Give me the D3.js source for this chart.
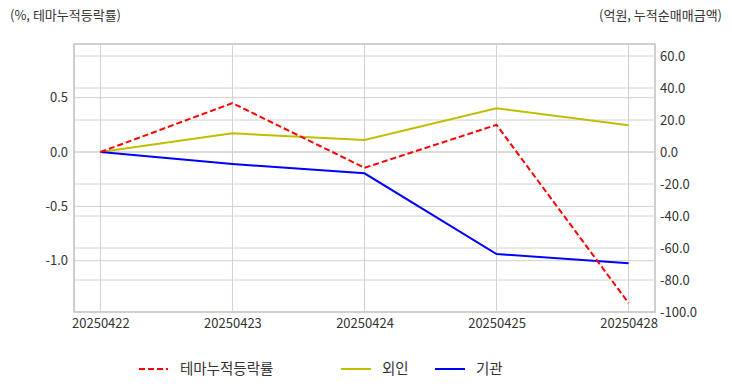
<!DOCTYPE html>
<html><head><meta charset="utf-8">
<script src="https://cdn.jsdelivr.net/npm/d3@7"></script>
<style>body{margin:0;background:#fff;}svg{display:block;font-family:"Noto Sans CJK KR","Noto Sans",sans-serif;}</style>
</head><body><svg id="c" width="732" height="392"></svg>
<script>
const dates = ["20250422","20250423","20250424","20250425","20250428"];
const themeRate = [0.0, 0.45, -0.145, 0.25, -1.39];
const foreign = [0.0, 11.7, 7.5, 27.3, 16.7];
const institution = [0.0, -7.5, -13.3, -63.75, -69.6];
const leftTicks = [0.5, 0.0, -0.5, -1.0];
const rightTicks = [60, 40, 20, 0, -20, -40, -60, -80, -100];
const leftTitle = "(%, 테마누적등락률)";
const rightTitle = "(억원, 누적순매매금액)";
const legendNames = ["테마누적등락률", "외인", "기관"];

const svg = d3.select("#c");
const L = 74, R = 655, T = 44, B = 312;
const x = d3.scalePoint().domain(dates).range([L, R]).padding(0.2);
const yL = d3.scaleLinear().domain([-1.472, 0.994]).range([B, T]);
const yR = d3.scaleLinear().domain([-100, 67.5]).range([B, T]);
const grid = "#d0d0d0", txt = "#333";
const fs = "13px";

// grids
const g = svg.append("g");
g.selectAll(".vx").data(dates).enter().append("line")
  .attr("x1", d => x(d)).attr("x2", d => x(d)).attr("y1", T).attr("y2", B)
  .attr("stroke", grid).attr("stroke-width", 1);
g.selectAll(".hl").data(leftTicks).enter().append("line")
  .attr("x1", L).attr("x2", R).attr("y1", d => yL(d)).attr("y2", d => yL(d))
  .attr("stroke", grid).attr("stroke-width", 1);
g.selectAll(".hr").data(rightTicks).enter().append("line")
  .attr("x1", L).attr("x2", R).attr("y1", d => yR(d)).attr("y2", d => yR(d))
  .attr("stroke", grid).attr("stroke-width", 1);
svg.append("rect").attr("x", L).attr("y", T).attr("width", R - L).attr("height", B - T)
  .attr("fill", "none").attr("stroke", "#cfcfcf").attr("stroke-width", 2);

// axes
const axL = svg.append("g").attr("transform", `translate(${L},0)`)
  .call(d3.axisLeft(yL).tickValues(leftTicks).tickFormat(d3.format(".1f")).tickSize(0).tickPadding(6));
const axR = svg.append("g").attr("transform", `translate(${R},0)`)
  .call(d3.axisRight(yR).tickValues(rightTicks).tickFormat(d3.format(".1f")).tickSize(0).tickPadding(5));
const axB = svg.append("g").attr("transform", `translate(0,${B})`)
  .call(d3.axisBottom(x).tickSize(0).tickPadding(7));
[axL, axR, axB].forEach(a => {
  a.select(".domain").remove();
  a.selectAll("text").attr("fill", txt).style("font-size", fs)
    .style("font-family", '"Noto Sans CJK KR","Noto Sans",sans-serif');
});
axL.selectAll("text").text(d => d3.format(".1f")(d).replace("−", "-"));
axR.selectAll("text").text(d => d3.format(".1f")(d).replace("−", "-"));

// titles
svg.append("text").attr("x", 10).attr("y", 20).attr("fill", txt).style("font-size", fs).text(leftTitle);
svg.append("text").attr("x", 722).attr("y", 20).attr("text-anchor", "end").attr("fill", txt).style("font-size", fs).text(rightTitle);

// lines
const lineL = d3.line().x((d, i) => x(dates[i])).y(d => yL(d));
const lineR = d3.line().x((d, i) => x(dates[i])).y(d => yR(d));
svg.append("path").datum(foreign).attr("d", lineR).attr("fill", "none")
  .attr("stroke", "#bfbf00").attr("stroke-width", 2);
svg.append("path").datum(institution).attr("d", lineR).attr("fill", "none")
  .attr("stroke", "#0000ff").attr("stroke-width", 2);
svg.append("path").datum(themeRate).attr("d", lineL).attr("fill", "none")
  .attr("stroke", "#ff0000").attr("stroke-width", 2).attr("stroke-dasharray", "6,3");

// legend
const legend = [
  {name: legendNames[0], color: "#ff0000", dash: "6,3", x1: 139, x2: 168, tx: 180},
  {name: legendNames[1], color: "#bfbf00", dash: null, x1: 341, x2: 371, tx: 382},
  {name: legendNames[2], color: "#0000ff", dash: null, x1: 435, x2: 465, tx: 476}
];
const lg = svg.append("g");
legend.forEach(d => {
  lg.append("line").attr("x1", d.x1).attr("x2", d.x2).attr("y1", 369).attr("y2", 369)
    .attr("stroke", d.color).attr("stroke-width", 2).attr("stroke-dasharray", d.dash);
  lg.append("text").attr("x", d.tx).attr("y", 374).attr("fill", txt).style("font-size", "14.5px").text(d.name);
});
</script></body></html>
